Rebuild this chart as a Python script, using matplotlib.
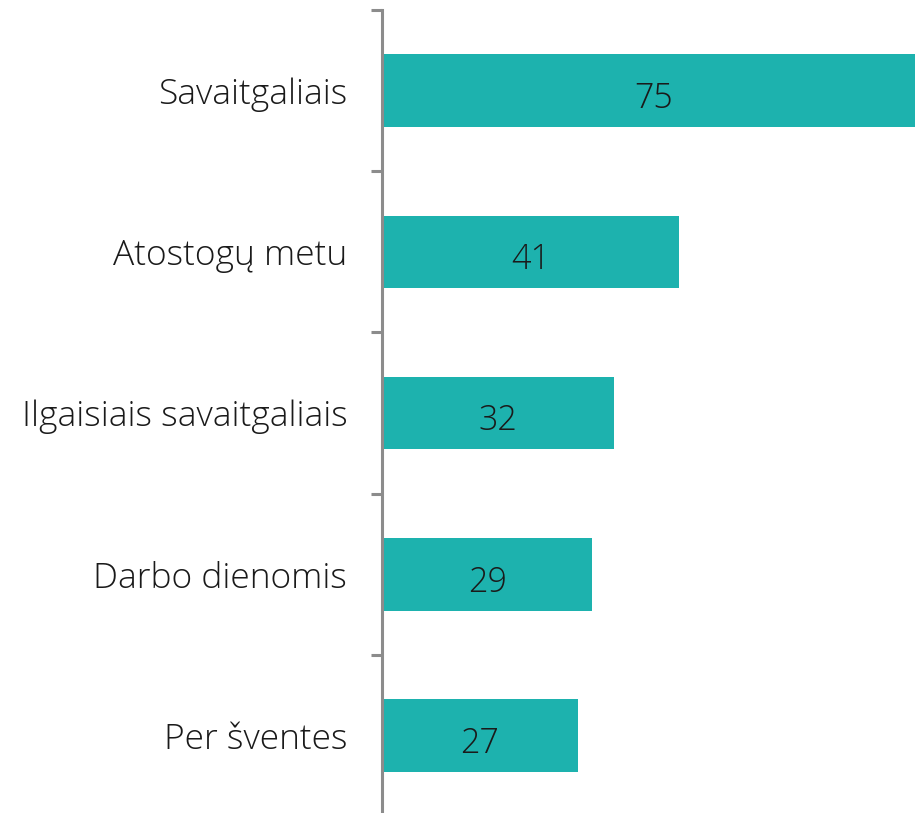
import matplotlib.pyplot as plt
from matplotlib import font_manager

# data
categories = ["Savaitgaliais", "Atostogų metu", "Ilgaisiais savaitgaliais", "Darbo dienomis", "Per šventes"]
values = [75, 41, 32, 29, 27]

bar_color = "#1db2ae"
axis_color = "#8c8c8c"

names = {f.name for f in font_manager.fontManager.ttflist}
family = "Open Sans" if "Open Sans" in names else "DejaVu Sans"
plt.rcParams["font.family"] = [family, "DejaVu Sans"]

fig = plt.figure(figsize=(9.15, 8.13), dpi=100)
ax = fig.add_axes([382 / 915, 0, 1 - 382 / 915, 803 / 813])

pos = list(range(len(categories)))
ax.barh(pos, values, height=0.45, color=bar_color, zorder=2)

for p, v in zip(pos, values):
    ax.text(v / 2, p + 0.05, str(v), ha="center", va="center",
            fontsize=24.5, fontweight="light", color="#1a1a1a")

ax.set_xlim(0, 73.5)
ax.set_ylim(4.48, -0.5)

ax.set_yticks(pos)
ax.set_yticklabels(categories, fontsize=25.5, fontweight="light", color="#1a1a1a")
ax.tick_params(axis="y", which="major", length=0, pad=25)
ax.set_yticks([-0.5, 0.5, 1.5, 2.5, 3.5], minor=True)
ax.tick_params(axis="y", which="minor", length=8, width=2.2, color=axis_color, direction="out")
ax.set_xticks([])

for s in ["top", "right", "bottom"]:
    ax.spines[s].set_visible(False)
ax.spines["left"].set_color(axis_color)
ax.spines["left"].set_linewidth(2.2)
ax.spines["left"].set_zorder(3)

fig.savefig("out.png", dpi=100)
